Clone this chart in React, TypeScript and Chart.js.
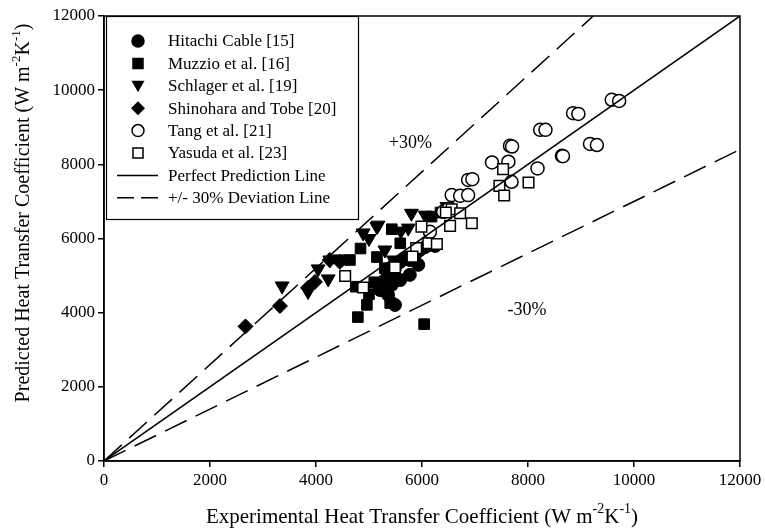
import { useEffect, useRef } from 'react';
import { Chart, registerables } from 'chart.js';
Chart.register(...registerables);

const FONT = '"Liberation Serif", "Times New Roman", serif';

const hitachi: [number, number][] = [
  [5360, 4480], [5430, 4750], [5400, 5020], [5490, 5200], [5590, 5370], [5680, 5480],
  [5770, 5420], [5870, 5560], [5960, 5690], [6060, 5770], [6150, 5830], [6250, 5800],
  [5590, 4880], [5770, 5020], [5930, 5290], [5300, 4880], [5210, 4610], [5490, 4210],
];
const muzzio: [number, number][] = [
  [5430, 6250], [5590, 5870], [4840, 5730], [5300, 5200], [4750, 4700], [5100, 4820],
  [4960, 4210], [4790, 3880], [5400, 4260], [6040, 3690], [4640, 5420], [6180, 6590],
  [6350, 6700], [5000, 4500], [5150, 5500],
];
const schlager: [number, number][] = [
  [3360, 4720], [4040, 5180], [4230, 4910], [4260, 5420], [4450, 5450], [3850, 4570],
  [5170, 6360], [4890, 6150], [5800, 6680], [5740, 6280], [5150, 6320], [5300, 5690],
  [5460, 5420], [6470, 6860], [6060, 6630], [5000, 6000], [5600, 6200],
];
const shinohara: [number, number][] = [
  [2670, 3630], [3320, 4180], [3980, 4830], [3850, 4670], [4260, 5420], [4450, 5370],
];
const tang: [number, number][] = [
  [7320, 8050], [7630, 8070], [7660, 8500], [7700, 8480], [8230, 8930], [8330, 8930],
  [8850, 9380], [8950, 9360], [9580, 9740], [9720, 9710], [9170, 8550], [9300, 8520],
  [8640, 8230], [8660, 8220], [8180, 7890], [7690, 7530], [6870, 7580], [6950, 7600],
  [6560, 7170], [6720, 7150], [6870, 7170], [6400, 6720], [6150, 6180], [6500, 6800],
];
const yasuda: [number, number][] = [
  [7530, 7870], [7460, 7420], [7550, 7160], [8010, 7510], [6560, 6790], [6720, 6680],
  [6530, 6340], [6940, 6410], [5990, 6320], [6120, 5870], [6280, 5850], [5890, 5740],
  [5820, 5510], [5490, 5220], [4550, 4990], [4890, 4680], [6450, 6700],
];
const perfectLine: [number, number][] = [[0, 0], [12000, 12000]];
const upperLine: [number, number][] = [[0, 0], [9231, 12000]];
const lowerLine: [number, number][] = [[0, 0], [12000, 8400]];

const seriesLabels = [
  'Hitachi Cable [15]',
  'Muzzio et al. [16]',
  'Schlager et al. [19]',
  'Shinohara and Tobe [20]',
  'Tang et al. [21]',
  'Yasuda et al. [23]',
  'Perfect Prediction Line',
  '+/- 30% Deviation Line',
];
const annotations: { text: string; x: number; y: number }[] = [
  { text: '+30%', x: 5780, y: 8580 },
  { text: '-30%', x: 7980, y: 4070 },
];

const pts = (a: [number, number][]) => a.map(([x, y]) => ({ x, y }));

type Part = { t: string; sup?: boolean };
function drawParts(ctx: CanvasRenderingContext2D, parts: Part[], cx: number, cy: number, size: number) {
  const sup = Math.round(size * 0.65);
  let total = 0;
  const widths = parts.map((p) => {
    ctx.font = `${p.sup ? sup : size}px ${FONT}`;
    const w = ctx.measureText(p.t).width;
    total += w;
    return w;
  });
  let x = cx - total / 2;
  ctx.textAlign = 'left';
  ctx.textBaseline = 'middle';
  parts.forEach((p, i) => {
    ctx.font = `${p.sup ? sup : size}px ${FONT}`;
    ctx.fillText(p.t, x, p.sup ? cy - size * 0.38 : cy);
    x += widths[i];
  });
}

const customPlugin = {
  id: 'custom',
  afterDraw(chart: any) {
    const ctx: CanvasRenderingContext2D = chart.ctx;
    const { left, right, top, bottom } = chart.chartArea;
    ctx.save();
    ctx.strokeStyle = '#000';
    ctx.fillStyle = '#000';
    ctx.lineWidth = 1.5;
    ctx.strokeRect(left, top, right - left, bottom - top);

    const xs = chart.scales.x, ys = chart.scales.y;
    ctx.font = `18px ${FONT}`;
    ctx.textAlign = 'center';
    ctx.textBaseline = 'middle';
    annotations.forEach((a) => ctx.fillText(a.text, xs.getPixelForValue(a.x), ys.getPixelForValue(a.y)));

    // legend
    const bx = left + 2, by = top, bw = 252, bh = 203;
    ctx.fillStyle = '#fff';
    ctx.fillRect(bx, by, bw, bh);
    ctx.lineWidth = 1.2;
    ctx.strokeStyle = '#000';
    ctx.strokeRect(bx + 0.5, by + 0.5, bw, bh);
    ctx.fillStyle = '#000';
    const mx = 138;
    const rowY = (i: number) => 41 + i * 22.4;
    const types = ['circle', 'rect', 'tri', 'diamond', 'ocircle', 'orect', 'line', 'dash'];
    types.forEach((t, i) => {
      const y = rowY(i);
      ctx.lineWidth = 1.5;
      ctx.beginPath();
      if (t === 'circle' || t === 'ocircle') {
        ctx.arc(mx, y, 6, 0, Math.PI * 2);
        ctx.fillStyle = t === 'circle' ? '#000' : '#fff';
        ctx.fill();
        ctx.stroke();
      } else if (t === 'rect' || t === 'orect') {
        ctx.rect(mx - 5, y - 5, 10, 10);
        ctx.fillStyle = t === 'rect' ? '#000' : '#fff';
        ctx.fill();
        ctx.stroke();
      } else if (t === 'tri') {
        ctx.moveTo(mx - 6.5, y - 5);
        ctx.lineTo(mx + 6.5, y - 5);
        ctx.lineTo(mx, y + 6.5);
        ctx.closePath();
        ctx.fillStyle = '#000';
        ctx.fill();
      } else if (t === 'diamond') {
        ctx.moveTo(mx, y - 7);
        ctx.lineTo(mx + 7, y);
        ctx.lineTo(mx, y + 7);
        ctx.lineTo(mx - 7, y);
        ctx.closePath();
        ctx.fillStyle = '#000';
        ctx.fill();
      } else if (t === 'line') {
        ctx.moveTo(117, y);
        ctx.lineTo(158, y);
        ctx.stroke();
      } else {
        ctx.moveTo(117, y);
        ctx.lineTo(134, y);
        ctx.moveTo(141, y);
        ctx.lineTo(158, y);
        ctx.stroke();
      }
      ctx.fillStyle = '#000';
      ctx.font = `17px ${FONT}`;
      ctx.textAlign = 'left';
      ctx.textBaseline = 'middle';
      ctx.fillText(seriesLabels[i], 168, y + 1);
    });

    // axis titles
    ctx.fillStyle = '#000';
    drawParts(ctx, [
      { t: 'Experimental Heat Transfer Coefficient (W m' }, { t: '-2', sup: true }, { t: 'K' }, { t: '-1', sup: true }, { t: ')' },
    ], (left + right) / 2, 517, 21);
    ctx.save();
    ctx.translate(24, 213);
    ctx.rotate(-Math.PI / 2);
    drawParts(ctx, [
      { t: 'Predicted Heat Transfer Coefficient (W m' }, { t: '-2', sup: true }, { t: 'K' }, { t: '-1', sup: true }, { t: ')' },
    ], 0, 0, 20);
    ctx.restore();
    ctx.restore();
  },
};

export default function App() {
  const ref = useRef<HTMLCanvasElement | null>(null);
  useEffect(() => {
    document.body.style.margin = '0';
    if (!ref.current) return;
    const filled = (data: [number, number][], style: string, order: number, extra: any = {}) => ({
      type: 'scatter' as const,
      data: pts(data),
      pointStyle: style,
      pointRadius: 6.5,
      pointBackgroundColor: '#000',
      pointBorderColor: '#000',
      pointBorderWidth: 1,
      order,
      ...extra,
    });
    const line = (data: [number, number][], dash: number[]) => ({
      type: 'line' as const,
      data: pts(data),
      borderColor: '#000',
      borderWidth: 1.5,
      borderDash: dash,
      pointRadius: 0,
      fill: false,
      order: 0,
    });
    const axisCommon = {
      type: 'linear' as const,
      min: 0,
      max: 12000,
      grid: { drawOnChartArea: false, drawTicks: true, tickLength: 6, color: '#000', lineWidth: 1.5 },
      border: { display: true, color: '#000', width: 1.5 },
      ticks: {
        stepSize: 2000,
        color: '#000',
        padding: 3,
        font: { family: FONT, size: 17 },
        callback: (v: any) => String(v),
      },
    };
    const chart = new Chart(ref.current, {
      type: 'scatter',
      data: {
        datasets: [
          line(perfectLine, []),
          line(upperLine, [24, 10]),
          line(lowerLine, [24, 10]),
          filled(yasuda, 'rect', 1, { pointRadius: 7.5, pointBackgroundColor: '#fff', pointBorderWidth: 1.5 }),
          filled(tang, 'circle', 2, { pointBackgroundColor: '#fff', pointBorderWidth: 1.5 }),
          filled(shinohara, 'rectRot', 3, { pointRadius: 7.5 }),
          filled(schlager, 'triangle', 4, { pointRadius: 8, pointRotation: 180 }),
          filled(muzzio, 'rect', 5, { pointRadius: 7.5 }),
          filled(hitachi, 'circle', 6),
        ] as any,
      },
      options: {
        animation: false,
        responsive: false,
        layout: { padding: { top: 16, right: 25, left: 0, bottom: 0 } },
        plugins: { legend: { display: false }, tooltip: { enabled: false } },
        scales: {
          x: { ...axisCommon, position: 'bottom', afterFit: (s: any) => { s.height = 71; } },
          y: { ...axisCommon, position: 'left', afterFit: (s: any) => { s.width = 104; } },
        } as any,
      },
      plugins: [customPlugin],
    });
    return () => chart.destroy();
  }, []);
  return (
    <div style={{ width: 765, height: 532, background: '#fff' }}>
      <canvas ref={ref} width={765} height={532} style={{ display: 'block' }} />
    </div>
  );
}
